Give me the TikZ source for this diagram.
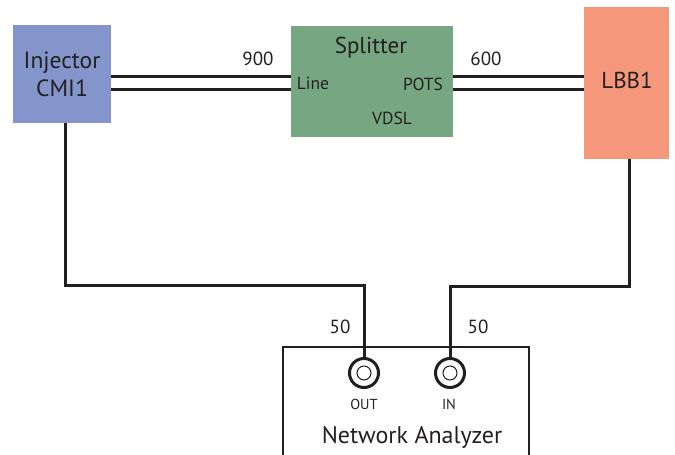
\documentclass[tikz,border=0pt]{standalone}
\usepackage{fontspec}
\setmainfont{PT Sans}
\definecolor{injc}{HTML}{8395CA}
\definecolor{splc}{HTML}{76A682}
\definecolor{lbbc}{HTML}{F4977A}
\definecolor{txt}{HTML}{231F20}
\begin{document}
\begin{tikzpicture}[x=1pt,y=-1pt,
  box/.style={draw=none,inner sep=0pt,align=center,text=txt},
  wire/.style={line width=3pt,draw=txt},
  lbl/.style={text=txt,inner sep=0pt,font=\fontsize{17.5}{20}\selectfont},
  num/.style={text=txt,inner sep=0pt,font=\fontsize{19}{22}\selectfont},
  small/.style={text=txt,inner sep=0pt,font=\fontsize{14.5}{17}\selectfont},
  big/.style={text=txt,inner sep=0pt,font=\fontsize{23}{27}\selectfont},
  port/.style={circle,draw=txt,line width=3pt,minimum size=29pt,inner sep=0pt},
  pin/.style={circle,draw=txt,line width=1pt,minimum size=14pt,inner sep=0pt}]
\useasboundingbox (0,0) rectangle (675,455);
% boxes
\node[box,fill=injc,minimum width=98pt,minimum height=98pt,font=\fontsize{23.5}{28}\selectfont] (inj) at (62,74) {Injector\\CMI1};
\node[box,fill=splc,minimum width=162pt,minimum height=111pt] (spl) at (372,81.5) {};
\node[box,fill=lbbc,minimum width=85pt,minimum height=152pt] (lbb) at (626.5,83) {};
\node[big] (lbbt) at (627,80) {LBB1};
\node[big] (splt) at (371,48) {Splitter};
\node[lbl] (line) at (313,83) {Line};
\node[lbl] (pots) at (423,84) {POTS};
\node[lbl] (vdsl) at (392,118) {VDSL};
\node[num] (l900) at (258,59) {900};
\node[num] (l600) at (486,59) {600};
% double lines
\draw[wire] (inj.east |- 0,76) -- (spl.west |- 0,76);
\draw[wire] (inj.east |- 0,89) -- (spl.west |- 0,89);
\draw[wire] (spl.east |- 0,76) -- (lbb.west |- 0,76);
\draw[wire] (spl.east |- 0,89) -- (lbb.west |- 0,89);
% analyzer
\draw[line width=2pt,draw=txt] (283,460) -- (283,347) -- (529,347) -- (529,460);
\node[port] (out) at (364,373) {};
\node[pin] (outp) at (out) {};
\node[port] (in) at (450,373) {};
\node[pin] (inp) at (in) {};
\node[small] (outt) at (364,404) {OUT};
\node[small] (int) at (449,404) {IN};
\node[text=txt,inner sep=0pt,font=\fontsize{24}{28}\selectfont] (na) at (412,437) {Network Analyzer};
\node[num] (l50a) at (340,327) {50};
\node[num] (l50b) at (478,327) {50};
% wires
\coordinate (ca) at (65,285);
\coordinate (cb) at (629,286);
\draw[wire] (inj.south -| ca) -- (ca) -- (ca -| out) -- (out.north);
\draw[wire] (lbb.south -| cb) -- (cb) -- (cb -| in) -- (in.north);
\end{tikzpicture}
\end{document}
